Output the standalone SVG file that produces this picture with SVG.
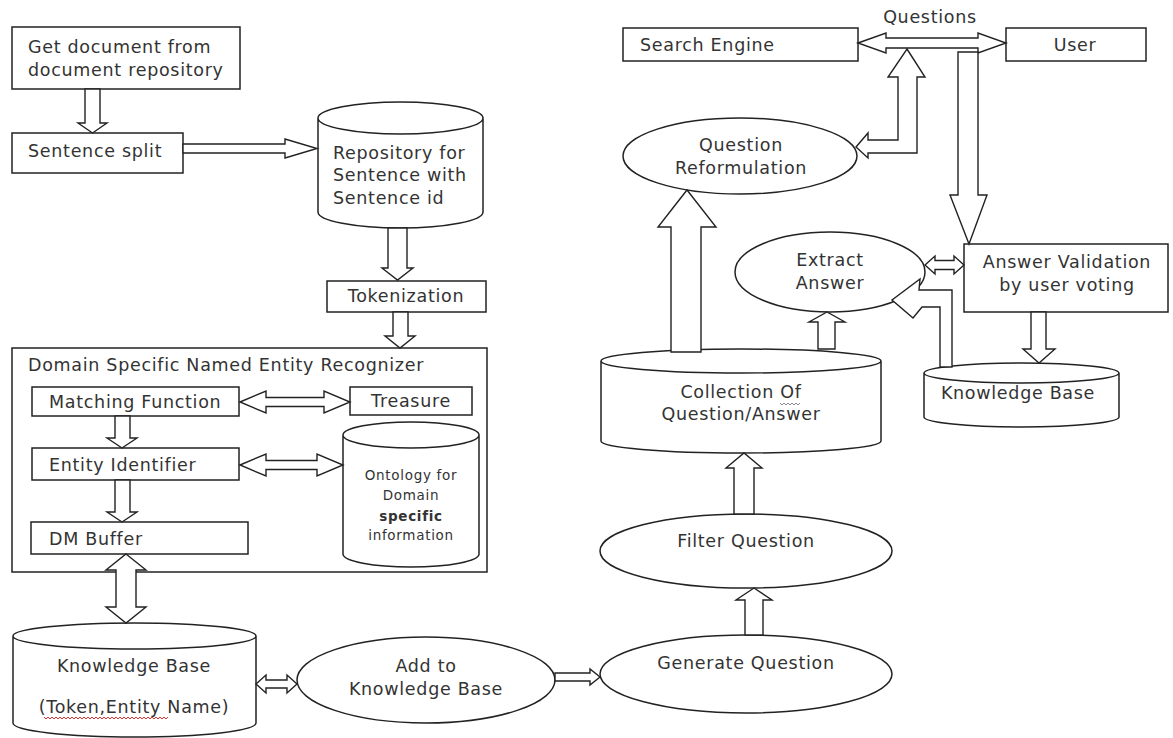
<svg xmlns="http://www.w3.org/2000/svg" width="1173" height="738" viewBox="0 0 1173 738">
<style>
.bx{fill:#fff;stroke:#222;stroke-width:1.5}
.cy{fill:#fff;stroke:#222;stroke-width:1.5}
.ar{fill:#fff;stroke:#222;stroke-width:1.4;stroke-linejoin:miter}
text{font-family:"DejaVu Sans","Liberation Sans",sans-serif;font-size:17.5px;fill:#333;letter-spacing:0.7px}
.c{text-anchor:middle}
.s{font-size:13.5px}
.sq{fill:none;stroke-width:1}
</style>
<rect width="1173" height="738" fill="#fff"/>

<g id="getdoc"><rect class="bx" x="12" y="27" width="228" height="62"/><text x="28" y="53">Get document from</text><text x="28" y="76">document repository</text></g>
<g id="split"><rect class="bx" x="12" y="133" width="171" height="40"/><text x="28" y="157">Sentence split</text></g>
<g id="repo"><path class="cy" d="M318,118 L318,212 A82.5,16 0 0 0 483,212 L483,118 A82.5,16 0 0 0 318,118 A82.5,16 0 0 0 483,118"/><text x="333" y="159">Repository for</text><text x="333" y="181">Sentence with</text><text x="333" y="204">Sentence id</text></g>
<g id="token"><rect class="bx" x="327" y="281" width="159" height="31"/><text class="c" x="406" y="302">Tokenization</text></g>
<g id="dsner"><rect class="bx" x="12" y="348" width="475" height="224"/><text x="28" y="371">Domain Specific Named Entity Recognizer</text></g>
<g id="matching"><rect class="bx" x="32" y="387" width="207" height="29"/><text x="49" y="408">Matching Function</text></g>
<g id="treasure"><rect class="bx" x="350" y="387" width="122" height="28"/><text class="c" x="411" y="407">Treasure</text></g>
<g id="entity"><rect class="bx" x="32" y="448" width="207" height="32"/><text x="49" y="471">Entity Identifier</text></g>
<g id="ontology"><path class="cy" d="M343,435 L343,554 A68,13 0 0 0 479,554 L479,435 A68,13 0 0 0 343,435 A68,13 0 0 0 479,435"/><text class="c s" x="411" y="480">Ontology for</text><text class="c s" x="411" y="500">Domain</text><text class="c s" x="411" y="521" font-weight="bold">specific</text><text class="c s" x="411" y="540">information</text></g>
<g id="dmbuffer"><rect class="bx" x="31" y="522" width="217" height="32"/><text x="49" y="545">DM Buffer</text></g>
<g id="kbleft"><path class="cy" d="M13,636 L13,723 A121.5,14 0 0 0 256,723 L256,636 A121.5,13 0 0 0 13,636 A121.5,13 0 0 0 256,636"/><text class="c" x="134" y="672">Knowledge Base</text><text class="c" x="134" y="713">(Token,Entity Name)</text><path class="sq" stroke="#d33" d="M44,717 l2,2 l2,-2 l2,2 l2,-2 l2,2 l2,-2 l2,2 l2,-2 l2,2 l2,-2 l2,2 l2,-2 l2,2 l2,-2 l2,2 l2,-2 l2,2 l2,-2 l2,2 l2,-2 l2,2 l2,-2 l2,2 l2,-2 l2,2 l2,-2 l2,2 l2,-2 l2,2 l2,-2 l2,2 l2,-2 l2,2 l2,-2 l2,2 l2,-2 l2,2 l2,-2 l2,2 l2,-2 l2,2 l2,-2 l2,2 l2,-2 l2,2 l2,-2 l2,2 l2,-2 l2,2 l2,-2 l2,2 l2,-2 l2,2 l2,-2 l2,2 l2,-2 l2,2 l2,-2 l2,2 l2,-2 l2,2 l2,-2"/></g>
<g id="addkb"><ellipse class="bx" cx="426" cy="680" rx="129" ry="43"/><text class="c" x="426" y="672">Add to</text><text class="c" x="426" y="695">Knowledge Base</text></g>
<g id="generate"><ellipse class="bx" cx="746" cy="674" rx="146" ry="39"/><text class="c" x="746" y="669">Generate Question</text></g>
<g id="filter"><ellipse class="bx" cx="746" cy="551" rx="146" ry="37"/><text class="c" x="746" y="547">Filter Question</text></g>
<g id="collection"><path class="cy" d="M601,361 L601,441 A140,12 0 0 0 881,441 L881,361 A140,12 0 0 0 601,361 A140,12 0 0 0 881,361"/><text class="c" x="741" y="398">Collection Of</text><text class="c" x="741" y="420">Question/Answer</text><path class="sq" stroke="#889" d="M780,403 l2,2 l2,-2 l2,2 l2,-2 l2,2 l2,-2 l2,2 l2,-2 l2,2 l2,-2"/></g>
<g id="extract"><ellipse class="bx" cx="830" cy="272" rx="95" ry="40"/><text class="c" x="830" y="266">Extract</text><text class="c" x="830" y="289">Answer</text></g>
<g id="reform"><ellipse class="bx" cx="740" cy="156" rx="117" ry="38"/><text class="c" x="741" y="151">Question</text><text class="c" x="741" y="174">Reformulation</text></g>
<g id="validation"><rect class="bx" x="964" y="244" width="204" height="68"/><text class="c" x="1067" y="268">Answer Validation</text><text class="c" x="1067" y="291">by user voting</text></g>
<g id="kbright"><path class="cy" d="M924,373 L924,417 A97.5,10 0 0 0 1119,417 L1119,373 A97.5,10 0 0 0 924,373 A97.5,10 0 0 0 1119,373"/><text class="c" x="1018" y="399">Knowledge Base</text></g>
<g id="search"><rect class="bx" x="623" y="28" width="235" height="33"/><text x="640" y="51">Search Engine</text></g>
<g id="user"><rect class="bx" x="1006" y="28" width="140" height="33"/><text class="c" x="1075" y="51">User</text></g>
<text id="questions" class="c" x="930" y="23">Questions</text>

<g id="connectors">
<polygon class="ar" points="85,89 85,123 78,123 92.5,133 107,123 100,123 100,89"/>
<polygon class="ar" points="183,144 285,144 285,139 317,148.5 285,158 285,153 183,153"/>
<polygon class="ar" points="388,228 388,268 382,268 397.5,280 413,268 407,268 407,228"/>
<polygon class="ar" points="393,312 393,336 385,336 400,348 415,336 408,336 408,312"/>
<polygon class="ar" points="240,402 266,391 266,397.5 324,397.5 324,391 350,402 324,413 324,406.5 266,406.5 266,413"/>
<polygon class="ar" points="115,416 115,438 107,438 122,448 137,438 130,438 130,416"/>
<polygon class="ar" points="240,465 266,454 266,460.5 317,460.5 317,454 343,465 317,476 317,469.5 266,469.5 266,476"/>
<polygon class="ar" points="115,480 115,512 107,512 122,522 137,512 130,512 130,480"/>
<polygon class="ar" points="126,554 146,570 136,570 136,607 146,607 126,623 106,607 116,607 116,570 106,570"/>
<polygon class="ar" points="256,684 266,675 266,680 287,680 287,675 297,684 287,693 287,688 266,688 266,693"/>
<polygon class="ar" points="555,673 590,673 590,669 600,677 590,685 590,681 555,681"/>
<polygon class="ar" points="745,635 745,600 736,600 754,588 772,600 763,600 763,635"/>
<polygon class="ar" points="734,514 734,468 726,468 744,453 762,468 754,468 754,514"/>
<polygon class="ar" points="671,352 671,227 658,227 687,190 716,227 701,227 701,352"/>
<polygon class="ar" points="818,349 818,322 809,322 827,312 845,322 835,322 835,349"/>
<polygon class="ar" points="925,265 935,256 935,260.5 954,260.5 954,256 964,265 954,274 954,269.5 935,269.5 935,274"/>
<polygon class="ar" points="940,367 940,307 922,307 913,318 892,300 920,279 919,290 952,290 952,367"/>
<polygon class="ar" points="1031,312 1031,349 1023,349 1039,363 1055,349 1046,349 1046,312"/>
<polygon class="ar" points="858,43 886,33 886,38 978,38 978,33 1006,43 978,53 978,48 886,48 886,53"/>
<polygon class="ar" points="958,52 978,52 978,195 987,195 969,244 950,195 958,195"/>
<polygon class="ar" points="907,49 925,77 917,77 917,153 868,153 868,158 856,147 868,133 868,140 898,140 898,77 888,77"/>
</g>
</svg>
